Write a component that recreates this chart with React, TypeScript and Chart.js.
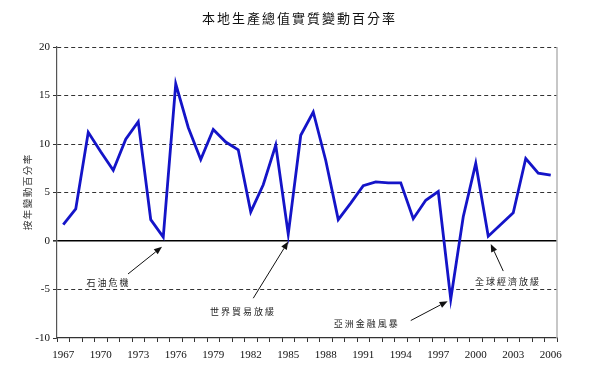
import React, { useEffect, useRef } from 'react';
import { Chart, registerables } from 'chart.js';

Chart.register(...registerables);

const years = [
  '1967', '1968', '1969', '1970', '1971', '1972', '1973', '1974', '1975', '1976',
  '1977', '1978', '1979', '1980', '1981', '1982', '1983', '1984', '1985', '1986',
  '1987', '1988', '1989', '1990', '1991', '1992', '1993', '1994', '1995', '1996',
  '1997', '1998', '1999', '2000', '2001', '2002', '2003', '2004', '2005', '2006',
];

const growth = [
  1.7, 3.3, 11.2, 9.2, 7.3, 10.5, 12.3, 2.2, 0.4, 16.2,
  11.7, 8.4, 11.5, 10.2, 9.4, 3.0, 5.8, 9.9, 0.7, 10.9,
  13.3, 8.3, 2.2, 3.9, 5.7, 6.1, 6.0, 6.0, 2.3, 4.2,
  5.1, -6.0, 2.5, 8.0, 0.5, 1.7, 2.9, 8.5, 7.0, 6.8,
];

const shownYearLabels = ['1967', '1970', '1973', '1976', '1979', '1982', '1985', '1988', '1991', '1994', '1997', '2000', '2003', '2006'];

const titleText = '本地生產總值實質變動百分率';
const yAxisTitle = '按年變動百分率';

// Annotations (in data coordinates: category index, value)
const noteTexts = ['石油危機', '世界貿易放緩', '亞洲金融風暴', '全球經濟放緩'];
const noteTextX = [3.54, 14.3, 24.2, 35.5];
const noteTextY = [-4.3, -7.3, -8.5, -4.2];
const arrowTailX = [5.18, 15.2, 27.8, 35.2];
const arrowTailY = [-3.4, -5.9, -8.2, -3.1];
const arrowTipX = [7.9, 18.0, 30.75, 34.2];
const arrowTipY = [-0.6, -0.05, -6.2, -0.3];

const cjkFont = '"Noto Sans CJK TC", "Noto Sans CJK SC", sans-serif';
const serifFont = '"Liberation Serif", "DejaVu Serif", serif';

function spacedText(ctx: any, text: string, cx: number, cy: number, step: number) {
  const chars = Array.from(text);
  const start = cx - ((chars.length - 1) * step) / 2;
  chars.forEach((c, k) => ctx.fillText(c, start + k * step, cy));
}

const annotationPlugin = {
  id: 'notes',
  afterDraw(chart: any) {
    const { ctx, chartArea, scales, width } = chart;
    const xs = scales.x;
    const ys = scales.y;
    ctx.save();
    // right frame line
    ctx.strokeStyle = '#b4b4b4';
    ctx.lineWidth = 1.5;
    ctx.beginPath();
    ctx.moveTo(chartArea.right, chartArea.top);
    ctx.lineTo(chartArea.right, chartArea.bottom);
    ctx.stroke();

    // arrows
    ctx.strokeStyle = '#111';
    ctx.fillStyle = '#111';
    ctx.lineWidth = 1;
    for (let i = 0; i < noteTexts.length; i++) {
      const x1 = xs.getPixelForValue(arrowTailX[i]);
      const y1 = ys.getPixelForValue(arrowTailY[i]);
      const x2 = xs.getPixelForValue(arrowTipX[i]);
      const y2 = ys.getPixelForValue(arrowTipY[i]);
      const ang = Math.atan2(y2 - y1, x2 - x1);
      const len = 8;
      const wid = 3.2;
      const bx = x2 - len * Math.cos(ang);
      const by = y2 - len * Math.sin(ang);
      ctx.beginPath();
      ctx.moveTo(x1, y1);
      ctx.lineTo(bx, by);
      ctx.stroke();
      ctx.beginPath();
      ctx.moveTo(x2, y2);
      ctx.lineTo(bx + wid * Math.sin(ang), by - wid * Math.cos(ang));
      ctx.lineTo(bx - wid * Math.sin(ang), by + wid * Math.cos(ang));
      ctx.closePath();
      ctx.fill();
    }

    ctx.textAlign = 'center';
    ctx.textBaseline = 'middle';

    // annotation texts
    ctx.fillStyle = '#222';
    ctx.font = `9px ${cjkFont}`;
    for (let i = 0; i < noteTexts.length; i++) {
      const x = xs.getPixelForValue(noteTextX[i]);
      const y = ys.getPixelForValue(noteTextY[i]);
      spacedText(ctx, noteTexts[i], x, y, 11);
    }

    // main title
    ctx.fillStyle = '#111';
    ctx.font = `13px ${cjkFont}`;
    spacedText(ctx, titleText, width / 2, 18, 15);

    // y axis title (rotated)
    ctx.save();
    ctx.translate(27.5, (chartArea.top + chartArea.bottom) / 2);
    ctx.rotate(-Math.PI / 2);
    ctx.fillStyle = '#333';
    ctx.font = `9.5px ${cjkFont}`;
    spacedText(ctx, yAxisTitle, 0, 0, 11);
    ctx.restore();

    ctx.restore();
  },
};

export default function App() {
  const canvasRef = useRef<HTMLCanvasElement | null>(null);

  useEffect(() => {
    const canvas = canvasRef.current;
    if (!canvas) return;
    const chart = new Chart(canvas, {
      type: 'line',
      data: {
        labels: years,
        datasets: [
          {
            data: growth,
            borderColor: '#1414c8',
            borderWidth: 2.8,
            pointRadius: 0,
            tension: 0,
            fill: false,
          },
        ],
      },
      options: {
        animation: false,
        responsive: false,
        devicePixelRatio: 1,
        layout: { padding: { left: 0, right: 40, top: 47, bottom: 0 } },
        plugins: {
          legend: { display: false },
          tooltip: { enabled: false },
          title: { display: false },
        },
        scales: {
          x: {
            type: 'category',
            offset: true,
            afterFit: (scale: any) => {
              scale.height = 29;
            },
            grid: {
              offset: true,
              drawOnChartArea: false,
              drawTicks: true,
              tickLength: 4,
              color: '#333',
              tickColor: '#333',
            },
            border: { display: true, color: '#333', width: 1.2 },
            ticks: {
              autoSkip: false,
              maxRotation: 0,
              minRotation: 0,
              padding: 7,
              color: '#111',
              font: { family: serifFont, size: 11 },
              callback: (_v: any, i: number) => (shownYearLabels.includes(years[i]) ? years[i] : ''),
            },
          },
          y: {
            min: -10,
            max: 20,
            afterFit: (scale: any) => {
              scale.width = 57;
            },
            ticks: {
              stepSize: 5,
              padding: 3,
              color: '#111',
              font: { family: serifFont, size: 11 },
            },
            grid: {
              drawTicks: true,
              tickLength: 4,
              color: (ctx: any) => {
                const v = ctx.tick ? ctx.tick.value : null;
                if (v === -10) return 'rgba(0,0,0,0)';
                if (v === 0) return '#000';
                return '#333';
              },
              lineWidth: (ctx: any) => (ctx.tick && ctx.tick.value === 0 ? 1.6 : 1),
              tickColor: '#333',
            },
            border: {
              display: true,
              color: '#555',
              width: 1.2,
              dash: (ctx: any) => (ctx.tick && ctx.tick.value === 0 ? [] : [4, 3]),
            },
            title: { display: false },
          },
        },
      },
      plugins: [annotationPlugin],
    });
    return () => chart.destroy();
  }, []);

  return (
    <div style={{ position: 'fixed', left: 0, top: 0, width: 597, height: 367, background: '#fff' }}>
      <canvas ref={canvasRef} width={597} height={367} />
    </div>
  );
}
